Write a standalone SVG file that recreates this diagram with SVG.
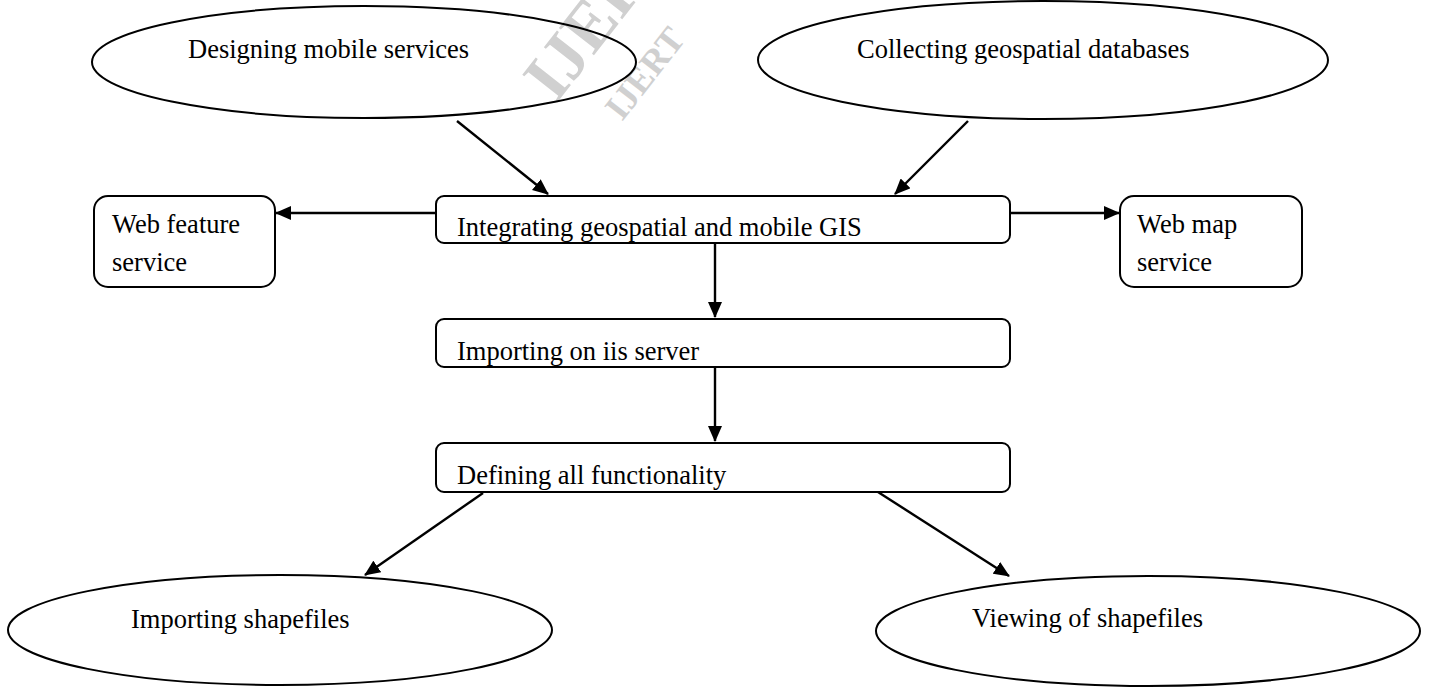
<svg xmlns="http://www.w3.org/2000/svg" width="1431" height="688" viewBox="0 0 1431 688">
<defs>
<style>
.shape{fill:#fff;stroke:#000;stroke-width:2}
.t{font-family:"Liberation Serif","Times New Roman",serif;font-size:26.5px;fill:#000}
.wm{font-family:"Liberation Serif","Times New Roman",serif;font-weight:bold;fill:#d0d0d0}
.c{stroke:#000;stroke-width:2.4;fill:none;marker-end:url(#ah)}
</style>
<marker id="ah" markerWidth="16" markerHeight="14" refX="15" refY="7" orient="auto" markerUnits="userSpaceOnUse">
<path d="M0,0 L16,7 L0,14 Z" fill="#000"/>
</marker>
<clipPath id="c1"><rect x="436" y="196" width="574" height="46"/></clipPath>
<clipPath id="c2"><rect x="436" y="319" width="574" height="47"/></clipPath>
<clipPath id="c3"><rect x="436" y="443" width="574" height="48"/></clipPath>
</defs>
<rect width="1431" height="688" fill="#fff"/>
<g id="watermark">
<text class="wm" font-size="68" transform="translate(556,104) rotate(-52)">IJERT</text>
<text class="wm" font-size="36" transform="translate(622,122) rotate(-52)">IJERT</text>
</g>
<g id="n-designing">
<ellipse class="shape" cx="364" cy="62" rx="272" ry="56" fill-opacity="0"/>
<text class="t" x="188" y="58">Designing mobile services</text>
</g>
<g id="n-collecting">
<ellipse class="shape" cx="1043" cy="60" rx="285" ry="59" fill-opacity="0"/>
<text class="t" x="857" y="58">Collecting geospatial databases</text>
</g>
<g id="n-integrating">
<rect class="shape" x="436" y="196" width="574" height="47" rx="8"/>
<text class="t" x="457" y="236" clip-path="url(#c1)">Integrating geospatial and mobile GIS</text>
</g>
<g id="n-wfs">
<rect class="shape" x="94" y="196" width="181" height="91" rx="14"/>
<text class="t" x="112" y="233">Web feature</text>
<text class="t" x="112" y="271">service</text>
</g>
<g id="n-wms">
<rect class="shape" x="1120" y="196" width="182" height="91" rx="14"/>
<text class="t" x="1137" y="233">Web map</text>
<text class="t" x="1137" y="271">service</text>
</g>
<g id="n-iis">
<rect class="shape" x="436" y="319" width="574" height="48" rx="8"/>
<text class="t" x="457" y="360" clip-path="url(#c2)">Importing on iis server</text>
</g>
<g id="n-defining">
<rect class="shape" x="436" y="443" width="574" height="49" rx="8"/>
<text class="t" x="457" y="484" clip-path="url(#c3)">Defining all functionality</text>
</g>
<g id="n-importing">
<ellipse class="shape" cx="280" cy="630" rx="272" ry="55"/>
<text class="t" x="131" y="628">Importing shapefiles</text>
</g>
<g id="n-viewing">
<ellipse class="shape" cx="1148" cy="631" rx="272" ry="55"/>
<text class="t" x="972" y="627">Viewing of shapefiles</text>
</g>
<g id="connectors">
<line class="c" x1="457" y1="121" x2="548" y2="194"/>
<line class="c" x1="968" y1="121" x2="895" y2="194"/>
<line class="c" x1="436" y1="213" x2="276" y2="213"/>
<line class="c" x1="1010" y1="213" x2="1119" y2="213"/>
<line class="c" x1="715" y1="243" x2="715" y2="317"/>
<line class="c" x1="715" y1="367" x2="715" y2="441"/>
<line class="c" x1="483" y1="493" x2="365" y2="575"/>
<line class="c" x1="878" y1="492" x2="1009" y2="576"/>
</g>
</svg>
